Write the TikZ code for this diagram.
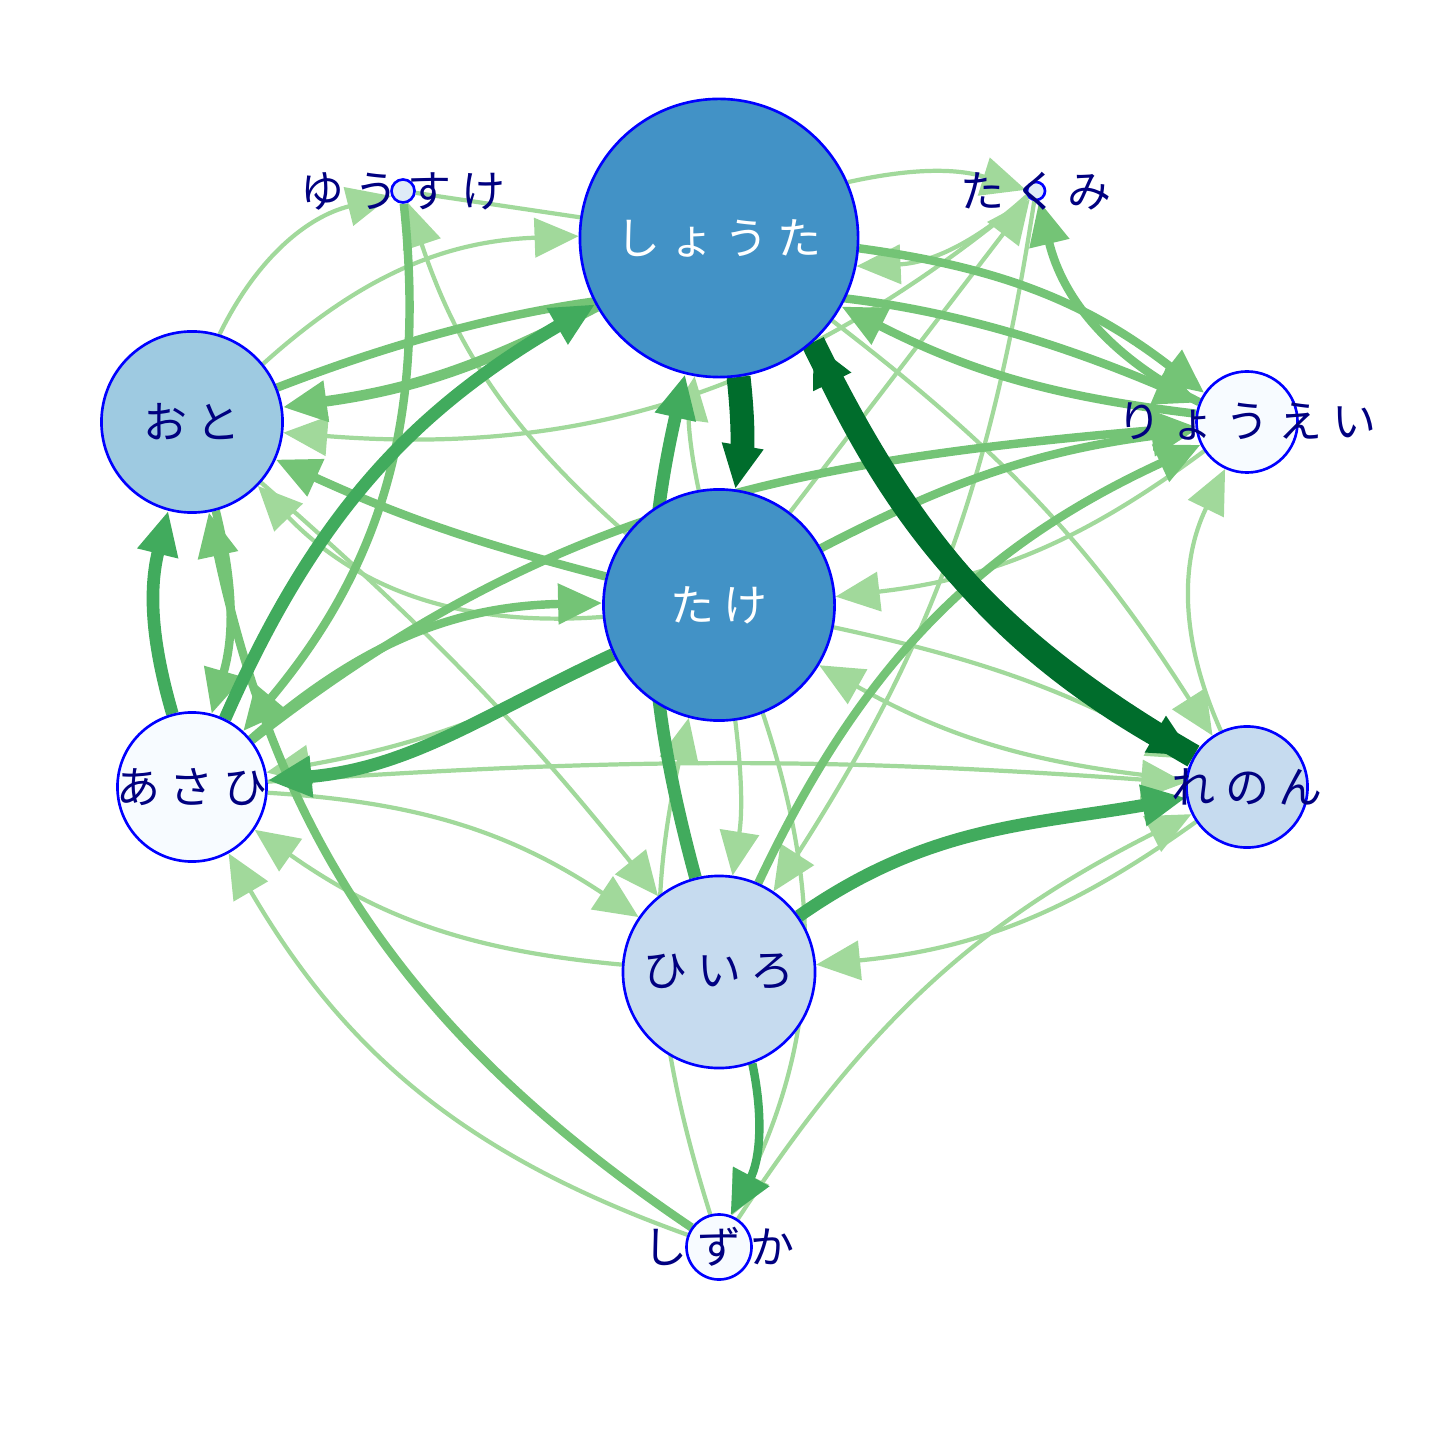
\documentclass[tikz,border=0pt]{standalone}
\usepackage{fontspec}
\newfontfamily\jp{Noto Sans CJK JP}
\usetikzlibrary{arrows.meta}
\pgfdeclarelayer{edges}
\pgfsetlayers{edges,main}
\definecolor{lgreen}{HTML}{A1D99B}
\definecolor{mgreen}{HTML}{74C476}
\definecolor{dgreen}{HTML}{41AB5D}
\definecolor{xgreen}{HTML}{006D2C}
\definecolor{fillA}{HTML}{4292C6}
\definecolor{fillB}{HTML}{9ECAE1}
\definecolor{fillC}{HTML}{C6DBEF}
\definecolor{fillD}{HTML}{F7FBFF}
\definecolor{fillE}{HTML}{DEEBF7}
\definecolor{navytext}{HTML}{000080}
\newcommand{\gp}{\hspace{0.1cm}}

\begin{document}
\begin{tikzpicture}[x=0.01cm,y=-0.01cm,
    vert/.style={circle,draw=blue,line width=0.75pt,inner sep=0pt},
    lab/.style={font=\jp\fontsize{12.5pt}{13pt}\selectfont,text=navytext,inner sep=0pt},
    wlab/.style={lab,text=white},
    tip/.style={-{Triangle[length=4.4mm,width=3.9mm]}},
    ledge/.style={tip,draw=lgreen,line width=1.2pt},
    medge/.style={tip,draw=mgreen,line width=2.4pt},
    dedge/.style={tip,draw=dgreen,line width=3.6pt},
    xedge/.style={tip,draw=xgreen,line width=6.8pt}]
    \useasboundingbox (0,0) rectangle (1440,1440);

    % vertices
    \node[vert,fill=fillA,minimum size=2.78cm,label={[wlab]center:{し\gp ょ\gp う\gp た}}] (S) at (719,238) {};
    \node[vert,fill=fillA,minimum size=2.31cm,label={[wlab]center:{た\gp け}}] (T) at (719,605) {};
    \node[vert,fill=fillB,minimum size=1.81cm,label={[lab]center:{お\gp と}}] (O) at (192,422) {};
    \node[vert,fill=fillD,minimum size=1.49cm,label={[lab]center:{あ\gp さ\gp ひ}}] (A) at (192,787) {};
    \node[vert,fill=fillC,minimum size=1.92cm,label={[lab]center:{ひ\gp い\gp ろ}}] (H) at (719,972) {};
    \node[vert,fill=fillC,minimum size=1.21cm,label={[lab]center:{れ\gp の\gp ん}}] (R) at (1247,787) {};
    \node[vert,fill=fillD,minimum size=1.01cm,label={[lab]center:{り\gp ょ\gp う\gp え\gp い}}] (Y) at (1247,422) {};
    \node[vert,fill=fillE,minimum size=0.23cm,label={[lab]center:{ゆ\gp う\gp す\gp け}}] (U) at (403,191) {};
    \node[vert,fill=fillE,minimum size=0.18cm,label={[lab]center:{た\gp く\gp み}}] (K) at (1036,191) {};
    \node[vert,fill=fillD,minimum size=0.65cm,label={[lab]center:{し\gp ず\gp か}}] (Z) at (719,1247) {};

    \begin{pgfonlayer}{edges}
    % light edges
    \draw[ledge] (O) to[bend left=25] (U);
    \draw[ledge] (T) to[bend left=15] (U);
    \draw[ledge,-] (U) -- (S);
    \draw[ledge] (K) to[bend left=22] (O);
    \draw[ledge] (O) to[bend left=20] (S);
    \draw[ledge] (T) to[bend left=25] (O);
    \draw[ledge] (O) to[bend left=5] (H);
    \draw[ledge] (T) to[bend left=8] (A);
    \draw[ledge] (A) to[bend left=15] (H);
    \draw[ledge] (H) to[bend left=15] (A);
    \draw[ledge] (Z) to[bend left=20] (A);
    \draw[ledge] (A) to[bend left=4] (R);
    \draw[ledge] (Z) to[bend left=15] (T);
    \draw[ledge] (T) to[bend left=10] (S);
    \draw[ledge] (S) to[bend left=15] (K);
    \draw[ledge] (K) to[bend left=20] (S);
    \draw[ledge] (T) to (K);
    \draw[ledge] (K) to[bend left=12] (H);
    \draw[ledge] (T) to[bend left=8] (H);
    \draw[ledge] (Y) to[bend left=15] (T);
    \draw[ledge] (R) to[bend left=25] (Y);
    \draw[ledge] (S) to[bend left=10] (R);
    \draw[ledge] (T) to[bend left=8] (R);
    \draw[ledge] (R) to[bend left=12] (T);
    \draw[ledge] (R) to[bend left=15] (H);
    \draw[ledge] (Z) to[bend left=15] (R);
    \draw[ledge] (T) to[bend left=22] (Z);
    % medium edges
    \draw[medge] (O) to[bend left=15] (A);
    \draw[medge] (Z) to[bend left=22] (O);
    \draw[medge] (U) to[bend left=23] (A);
    \draw[medge] (A) to[bend left=20] (T);
    \draw[medge] (T) to[bend left=5] (O);
    \draw[medge,line width=3pt] (S) to[bend left=10] (O);
    \draw[medge] (O) to[bend left=22] (Y);
    \draw[medge] (S) to[bend left=15] (Y);
    \draw[medge] (Y) to[bend left=10] (S);
    \draw[medge] (Y) to[bend left=25] (K);
    \draw[medge] (T) to[bend left=10] (Y);
    \draw[medge] (A) to[out=38,in=185] (Y);
    \draw[medge] (H) to[bend left=20] (Y);
    % dark edges
    \draw[dedge] (A) to[bend left=15] (O);
    \draw[dedge] (A) to[bend left=18] (S);
    \draw[dedge] (T) to[out=205,in=5] (A);
    \draw[dedge] (H) to[out=35,in=190] (R);
    \draw[dedge] (H) to[bend left=14] (S);
    \draw[dedge,line width=2.4pt] (H) to[bend left=20] (Z);
    \draw[xedge] (S.-48) to[out=-64,in=150] (R.150);
    \draw[xedge] (R.150) to[out=150,in=-64] (S.-48);
    \draw[xedge] (S) to[bend left=8] (T);
    \end{pgfonlayer}
\end{tikzpicture}
\end{document}
